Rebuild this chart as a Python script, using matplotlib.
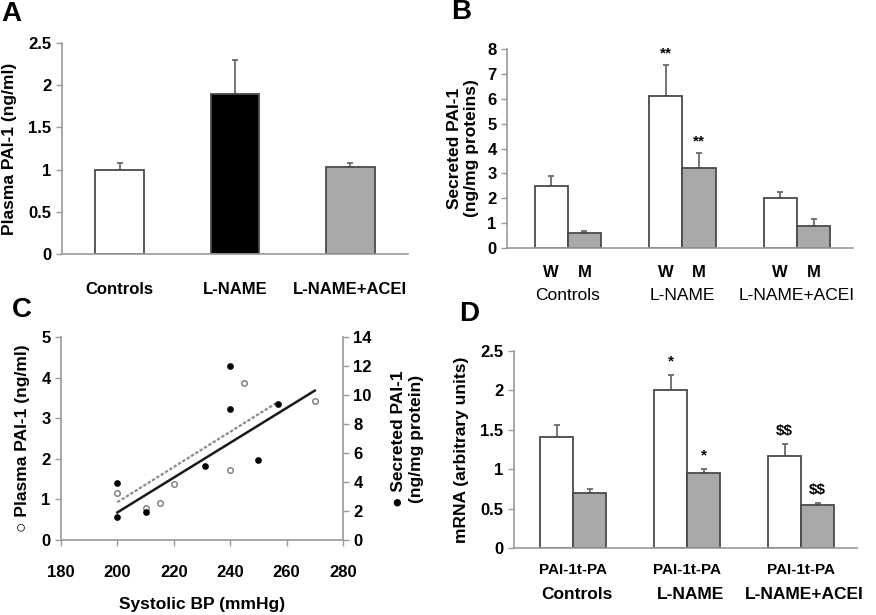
import matplotlib.pyplot as plt
import matplotlib.transforms as mtransforms
import numpy as np

#### Data
groups = ['Controls', 'L-NAME', 'L-NAME+ACEI']

# A - plasma PAI-1
a_vals = [1.0, 1.9, 1.03]
a_err = [0.08, 0.4, 0.05]

# B - secreted PAI-1, W and M
b_w = [2.5, 6.1, 2.0]
b_w_err = [0.4, 1.25, 0.25]
b_m = [0.6, 3.2, 0.9]
b_m_err = [0.07, 0.6, 0.28]
b_w_marks = ['', '**', '']
b_m_marks = ['', '**', '']

# C - correlation with systolic BP
c_bp_plasma = [200, 210, 215, 220, 240, 245, 270]
c_plasma = [1.16, 0.78, 0.92, 1.37, 1.72, 3.87, 3.42]
c_bp_secr = [200, 200, 210, 231, 240, 240, 250, 257]
c_secr = [3.9, 1.6, 1.95, 5.1, 12.0, 9.0, 5.5, 9.4]
c_fit_plasma_x = [200, 257]
c_fit_plasma_y = [0.93, 3.4]
c_fit_secr_x = [200, 270]
c_fit_secr_y = [1.9, 10.3]

# D - mRNA PAI-1 / t-PA
d_pai = [1.41, 2.0, 1.17]
d_pai_err = [0.15, 0.2, 0.15]
d_tpa = [0.7, 0.95, 0.55]
d_tpa_err = [0.05, 0.05, 0.02]
d_pai_marks = ['', '*', '$$']
d_tpa_marks = ['', '*', '$$']

#### Style
plt.rcParams['font.family'] = ['Liberation Sans', 'DejaVu Sans']
axcol = '#9a9a9a'
edgecol = '#4a4a4a'
errcol = '#6a6a6a'
grey = '#a9a9a9'
tfs = 12      # tick labels
lfs = 12.5    # axis labels


def style(ax):
    for s in ['top', 'right']:
        ax.spines[s].set_visible(False)
    for s in ['left', 'bottom']:
        ax.spines[s].set_color(axcol)
        ax.spines[s].set_linewidth(1.2)
    ax.tick_params(axis='both', colors=axcol, labelcolor='black', length=4, width=1)
    for lab in ax.get_yticklabels():
        lab.set_fontweight('bold')
        lab.set_fontsize(tfs)


def bars(ax, x, vals, err, color, width):
    ax.bar(x, vals, width, color=color, edgecolor=edgecol, lw=1.3, zorder=2)
    ax.errorbar(x, vals, yerr=[np.zeros(len(vals)), err], fmt='none', ecolor=errcol,
                elinewidth=1.3, capsize=2.5, capthick=1.3, zorder=1)


fig = plt.figure(figsize=(8.76, 6.15), dpi=100)

### A
axA = fig.add_axes([0.0708, 0.587, 0.395, 0.343])
xA = np.arange(3)
bars(axA, xA, a_vals, a_err, ['white', 'black', grey], 0.42)
axA.set_xlim(-0.5, 2.5)
axA.set_ylim(0, 2.5)
axA.set_yticks([0, 0.5, 1, 1.5, 2, 2.5])
axA.set_yticklabels(['0', '0.5', '1', '1.5', '2', '2.5'])
axA.set_xticks(xA)
axA.set_xticklabels(groups, fontweight='bold', fontsize=tfs)
axA.tick_params(axis='x', length=0, pad=20)
axA.set_ylabel('Plasma PAI-1 (ng/ml)', fontweight='bold', fontsize=lfs, labelpad=8)
style(axA)
axA.tick_params(axis='x', length=0)

### B
axB = fig.add_axes([0.5788, 0.5967, 0.395, 0.3236])
xB = np.arange(3)
bw = 0.29
bars(axB, xB - bw / 2, b_w, b_w_err, 'white', bw)
bars(axB, xB + bw / 2, b_m, b_m_err, grey, bw)
for i in range(3):
    if b_w_marks[i]:
        axB.text(xB[i] - bw / 2, b_w[i] + b_w_err[i] + 0.2, b_w_marks[i], ha='center', va='bottom', fontsize=11, fontweight='bold')
    if b_m_marks[i]:
        axB.text(xB[i] + bw / 2, b_m[i] + b_m_err[i] + 0.2, b_m_marks[i], ha='center', va='bottom', fontsize=11, fontweight='bold')
axB.set_xlim(-0.53, 2.49)
axB.set_ylim(0, 8)
axB.set_yticks(range(0, 9))
axB.set_xticks(np.concatenate([xB - bw / 2, xB + bw / 2]))
axB.set_xticklabels(['W'] * 3 + ['M'] * 3, fontweight='bold', fontsize=tfs)
axB.tick_params(axis='x', length=0, pad=12)
trB = mtransforms.blended_transform_factory(axB.transData, axB.transAxes)
for i, g in enumerate(groups):
    axB.text(xB[i], -0.2, g, transform=trB, ha='center', va='top', fontsize=12.5)
axB.set_ylabel('Secreted PAI-1\n(ng/mg proteins)', fontweight='bold', fontsize=lfs, labelpad=6)
style(axB)
axB.tick_params(axis='x', length=0)

### C
axC = fig.add_axes([0.0696, 0.1220, 0.3219, 0.3301])
axC2 = axC.twinx()
axC.plot(c_fit_plasma_x, c_fit_plasma_y, color='#8c8c8c', lw=1.6, ls=(0, (1.5, 0.8)), zorder=2)
axC2.plot(c_fit_secr_x, c_fit_secr_y, color='#1a1a1a', lw=1.8, zorder=2)
axC.plot(c_bp_plasma, c_plasma, 'o', mfc='white', mec='#7a7a7a', ms=4, mew=1, zorder=3)
axC2.plot(c_bp_secr, c_secr, 'o', color='black', ms=3.8, zorder=3)
axC.set_xlim(180, 280)
axC.set_ylim(0, 5)
axC2.set_ylim(0, 14)
axC.set_xticks(range(180, 281, 20))
axC.set_yticks(range(0, 6))
axC2.set_yticks(range(0, 15, 2))
axC.set_xticklabels([str(v) for v in range(180, 281, 20)], fontweight='bold', fontsize=tfs)
axC.set_xlabel('Systolic BP (mmHg)', fontweight='bold', fontsize=lfs, labelpad=12)
axC.set_ylabel('\u25cb Plasma PAI-1 (ng/ml)', fontweight='bold', fontsize=lfs, labelpad=8)
axC2.set_ylabel('\u25cf Secreted PAI-1\n(ng/mg protein)', fontweight='bold', fontsize=lfs, labelpad=14)
style(axC)
axC.tick_params(axis='x', pad=14)
axC2.spines['top'].set_visible(False)
axC2.spines['left'].set_visible(False)
axC2.spines['bottom'].set_visible(False)
axC2.spines['right'].set_color(axcol)
axC2.spines['right'].set_linewidth(1.2)
axC2.tick_params(axis='y', colors=axcol, labelcolor='black', length=4, width=1)
for lab in axC2.get_yticklabels():
    lab.set_fontweight('bold')
    lab.set_fontsize(tfs)

### D
axD = fig.add_axes([0.5868, 0.1089, 0.3916, 0.3203])
xD = np.arange(3)
dw = 0.29
bars(axD, xD - dw / 2, d_pai, d_pai_err, 'white', dw)
bars(axD, xD + dw / 2, d_tpa, d_tpa_err, grey, dw)
for i in range(3):
    if d_pai_marks[i]:
        axD.text(xD[i] - dw / 2, d_pai[i] + d_pai_err[i] + 0.08, d_pai_marks[i], ha='center', va='bottom',
                 fontsize=11, fontweight='bold', parse_math=False)
    if d_tpa_marks[i]:
        axD.text(xD[i] + dw / 2, d_tpa[i] + d_tpa_err[i] + 0.08, d_tpa_marks[i], ha='center', va='bottom',
                 fontsize=11, fontweight='bold', parse_math=False)
axD.set_xlim(-0.52, 2.49)
axD.set_ylim(0, 2.5)
axD.set_yticks([0, 0.5, 1, 1.5, 2, 2.5])
axD.set_yticklabels(['0', '0.5', '1', '1.5', '2', '2.5'])
axD.set_xticks(xD)
axD.set_xticklabels(['PAI-1t-PA'] * 3, fontweight='bold', fontsize=11)
axD.tick_params(axis='x', length=0, pad=11)
trD = mtransforms.blended_transform_factory(axD.transData, axD.transAxes)
for i, g in enumerate(groups):
    axD.text(xD[i] + 0.03, -0.2, g, transform=trD, ha='center', va='top', fontsize=lfs, fontweight='bold')
axD.set_ylabel('mRNA (arbitrary units)', fontweight='bold', fontsize=lfs, labelpad=8)
style(axD)
axD.tick_params(axis='x', length=0)

### Panel letters
for lt, (x, y) in zip('ABCD', [(0.002, 0.978), (0.515, 0.980), (0.014, 0.496), (0.524, 0.490)]):
    fig.text(x, y, lt, fontsize=20, fontweight='bold', ha='left', va='center')

fig.savefig('out.png', dpi=100, facecolor='white')
